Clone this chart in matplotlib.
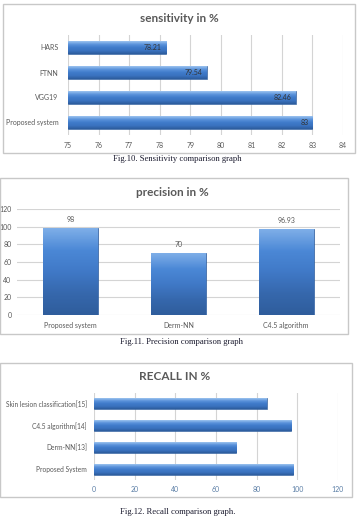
import numpy as np
import matplotlib
matplotlib.use("Agg")
import matplotlib.pyplot as plt
from matplotlib.colors import LinearSegmentedColormap
from matplotlib.patches import Rectangle

# Data (bottom-to-top order for the horizontal charts)
sens_labels = ["Proposed system", "VGG19", "FTNN", "HARS"]
sens_values = [83, 82.46, 79.54, 78.21]
sens_text = ["83", "82.46", "79.54", "78.21"]

prec_labels = ["Proposed system", "Derm-NN", "C4.5 algorithm"]
prec_values = [98, 70, 96.93]
prec_text = ["98", "70", "96.93"]

rec_labels = ["Proposed System", "Derm-NN[13]", "C4.5 algorithm[14]", "Skin lesion classification[15]"]
rec_values = [98, 70, 97, 85]

plt.rcParams['font.family'] = ['Lato', 'DejaVu Sans']

W, H = 364, 526
fig = plt.figure(figsize=(W / 100, H / 100), dpi=100)

grey = "#595959"
grid_c = "#d4d4d4"
h_cmap = LinearSegmentedColormap.from_list(
    "hbar", ["#9cc3ef", "#5b93db", "#3f7bca", "#3a72bf", "#2c5c9c"])
v_cmap = LinearSegmentedColormap.from_list(
    "vbar", ["#7eaee8", "#4b88d6", "#4079c7", "#3668ad", "#2f5d9c"])


def fax(x0, y0, x1, y1):
    # axes from pixel box (top-left origin)
    return fig.add_axes([x0 / W, 1 - y1 / H, (x1 - x0) / W, (y1 - y0) / H])


def frame(x0, y0, x1, y1):
    fig.patches.append(Rectangle((x0 / W, 1 - y1 / H), (x1 - x0) / W, (y1 - y0) / H,
                                 transform=fig.transFigure, fill=False,
                                 edgecolor="#c8c8c8", linewidth=1.0))


def shade(ax, bars, cmap):
    grad = np.linspace(0, 1, 64).reshape(-1, 1)
    for b in bars:
        x, y, w, h = b.get_x(), b.get_y(), b.get_width(), b.get_height()
        im = ax.imshow(grad, cmap=cmap, extent=(x, x + w, y, y + h),
                       aspect="auto", origin="upper", zorder=2.5)
        im.set_clip_path(b)


def clean(ax):
    for s in ax.spines.values():
        s.set_visible(False)
    ax.set_axisbelow(True)
    ax.tick_params(length=0, labelsize=5, colors=grey)


def caption(y, x, text, size=6.2):
    fig.text(x / W, 1 - y / H, text, ha="center", va="center",
             fontsize=size, family="Liberation Serif", color="#1a1a2e")


# ---- Panel 1: sensitivity ----
frame(3, 4, 355, 153)
fig.text(179 / W, 1 - 18 / H, "sensitivity in %", ha="center", va="center",
         fontsize=8.5, fontweight="bold", color=grey)
ax1 = fax(68, 35, 343, 135)
pos = np.arange(len(sens_labels))
b1 = ax1.barh(pos, [v - 75 for v in sens_values], left=75, height=0.5,
              color="#3c78c8", edgecolor="#2a568f", linewidth=0.4, zorder=2)
shade(ax1, b1, h_cmap)
for p, v, t in zip(pos, sens_values, sens_text):
    ax1.annotate(t, (v, p), xytext=(-3, 0), textcoords="offset points",
                 ha="right", va="center", fontsize=5, color="#333333", zorder=4)
ax1.set_xlim(75, 84)
ax1.set_ylim(-0.5, 3.5)
ax1.set_xticks(range(75, 85))
ax1.set_yticks(pos)
ax1.set_yticklabels(sens_labels)
ax1.xaxis.grid(True, color=grid_c, linewidth=0.8)
clean(ax1)
ax1.tick_params(axis="y", pad=7)
ax1.tick_params(axis="x", pad=5)
caption(159, 177, "Fig.10. Sensitivity comparison graph")

# ---- Panel 2: precision ----
frame(0, 178, 348, 334)
fig.text(172 / W, 1 - 193 / H, "precision in %", ha="center", va="center",
         fontsize=8.5, fontweight="bold", color=grey)
ax2 = fax(17, 209, 340, 315)
pos2 = np.arange(len(prec_labels))
b2 = ax2.bar(pos2, prec_values, width=0.51, color="#4079c7",
             edgecolor="#2f5d9c", linewidth=0.5, zorder=2)
shade(ax2, b2, v_cmap)
ax2.bar_label(b2, labels=prec_text, padding=4, fontsize=5, color=grey)
ax2.set_xlim(-0.5, 2.5)
ax2.set_ylim(0, 120)
ax2.set_yticks(range(0, 121, 20))
ax2.set_xticks(pos2)
ax2.set_xticklabels(prec_labels)
ax2.yaxis.grid(True, color=grid_c, linewidth=0.8)
clean(ax2)
ax2.tick_params(axis="y", pad=4)
ax2.tick_params(axis="x", pad=5)
caption(342, 182, "Fig.11. Precision comparison graph")

# ---- Panel 3: recall ----
frame(0, 363, 352, 497)
fig.text(175 / W, 1 - 376 / H, "RECALL IN %", ha="center", va="center",
         fontsize=8.5, fontweight="bold", color=grey)
ax3 = fax(94, 393, 338, 480)
pos3 = np.arange(len(rec_labels))
b3 = ax3.barh(pos3, rec_values, height=0.5, color="#3c78c8",
              edgecolor="#2a568f", linewidth=0.4, zorder=2)
shade(ax3, b3, h_cmap)
ax3.set_xlim(0, 120)
ax3.set_ylim(-0.5, 3.5)
ax3.set_xticks(range(0, 121, 20))
ax3.set_yticks(pos3)
ax3.set_yticklabels(rec_labels)
ax3.xaxis.grid(True, color=grid_c, linewidth=0.8)
clean(ax3)
ax3.tick_params(axis="x", colors="#5b7ea6", pad=4)
ax3.tick_params(axis="y", pad=5, labelsize=4.8)
caption(512, 178, "Fig.12. Recall comparison graph.")

fig.savefig("out.png", dpi=100)
